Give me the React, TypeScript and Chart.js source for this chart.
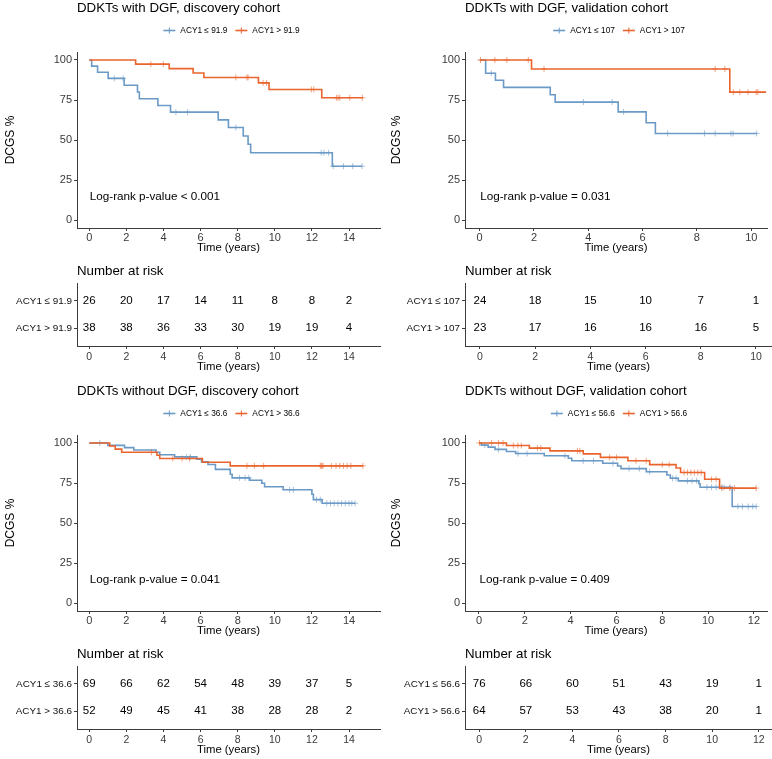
import React, { useEffect, useRef } from "react";
import { Chart, registerables } from "chart.js";
Chart.register(...registerables);

const FONT = "'Liberation Sans', Arial, Helvetica, sans-serif";
const BLUE = "#6B9AC6";
const ORANGE = "#E9652D";
const BLUE_C = "rgba(107,154,198,0.6)";
const ORANGE_C = "rgba(233,101,45,0.6)";
const AXIS = "#3c3c3c";
const TICK_TXT = "#3a3a3a";

// ---------- Panel A: DDKTs with DGF, discovery cohort ----------
const A_LOW_T = [0, 0.13, 0.45, 1.02, 1.88, 2.6, 2.7, 3.7, 4.38, 6.95, 7.5, 8.3, 8.56, 8.7, 13.1, 14.7];
const A_LOW_S = [100, 96.2, 92.3, 88.5, 84.2, 80.0, 75.8, 71.6, 67.4, 62.6, 57.8, 52.5, 47.3, 42.0, 33.6, 33.6];
const A_LOW_C = [1.35, 1.83, 4.67, 5.3, 7.9, 12.5, 12.65, 12.9, 13.15, 13.7, 14.2, 14.7];
const A_HIGH_T = [0, 2.5, 4.31, 5.6, 6.18, 9.12, 9.69, 12.53, 14.74];
const A_HIGH_S = [100, 97.4, 94.6, 91.9, 89.1, 85.7, 81.6, 76.4, 76.4];
const A_HIGH_C = [3.32, 3.99, 7.9, 8.5, 8.56, 9.37, 9.55, 11.97, 12.1, 13.32, 13.41, 13.5, 14.04, 14.72];
const A_LABELS = ["ACY1 \u2264 91.9", "ACY1 > 91.9"];
const A_RISK_T = [0, 2, 4, 6, 8, 10, 12, 14];
const A_RISK_LOW = [26, 20, 17, 14, 11, 8, 8, 2];
const A_RISK_HIGH = [38, 38, 36, 33, 30, 19, 19, 4];

// ---------- Panel B: DDKTs with DGF, validation cohort ----------
const B_LOW_T = [0, 0.22, 0.58, 0.88, 2.6, 2.78, 5.1, 6.13, 6.47, 10.2];
const B_LOW_S = [100, 91.7, 87.3, 82.9, 78.3, 73.7, 67.6, 60.8, 54.1, 54.1];
const B_LOW_C = [0.43, 3.82, 4.88, 5.3, 6.92, 8.28, 8.67, 9.25, 9.33, 10.2];
const B_HIGH_T = [0, 1.91, 9.21, 10.55];
const B_HIGH_S = [100, 94.4, 79.9, 79.9];
const B_HIGH_C = [0.03, 0.56, 1.0, 1.79, 2.37, 8.67, 9.03, 9.34, 9.58, 9.88, 10.18, 10.24];
const B_LABELS = ["ACY1 \u2264 107", "ACY1 > 107"];
const B_RISK_T = [0, 2, 4, 6, 8, 10];
const B_RISK_LOW = [24, 18, 15, 10, 7, 1];
const B_RISK_HIGH = [23, 17, 16, 16, 16, 5];

// ---------- Panel C: DDKTs without DGF, discovery cohort ----------
const C_LOW_T = [0, 1.0, 1.9, 2.4, 3.6, 3.8, 4.6, 5.8, 6.05, 6.4, 6.8, 7.6, 7.7, 8.65, 9.3, 9.45, 10.45, 12.0, 12.08, 12.55, 14.33];
const C_LOW_S = [100, 98.5, 97.1, 95.6, 94.2, 92.7, 91.3, 89.8, 88.2, 86.6, 83.5, 80.5, 78.2, 76.7, 74.8, 72.7, 70.8, 68.0, 64.6, 62.3, 62.3];
const C_LOW_C = [0.57, 5.25, 5.45, 8.1, 8.4, 8.6, 10.8, 11.0, 12.25, 12.45, 12.8, 13.0, 13.2, 13.4, 13.6, 13.8, 14.0, 14.15, 14.33];
const C_HIGH_T = [0, 1.1, 1.4, 1.75, 3.65, 3.8, 6.1, 7.6, 14.75];
const C_HIGH_S = [100, 98.1, 96.2, 94.2, 92.3, 90.3, 88.0, 85.7, 85.7];
const C_HIGH_C = [3.35, 4.5, 5.0, 5.4, 8.5, 8.9, 9.4, 12.45, 12.5, 12.55, 12.6, 13.05, 13.3, 13.5, 13.7, 13.9, 14.1, 14.75];
const C_LABELS = ["ACY1 \u2264 36.6", "ACY1 > 36.6"];
const C_RISK_T = [0, 2, 4, 6, 8, 10, 12, 14];
const C_RISK_LOW = [69, 66, 62, 54, 48, 39, 37, 5];
const C_RISK_HIGH = [52, 49, 45, 41, 38, 28, 28, 2];

// ---------- Panel D: DDKTs without DGF, validation cohort ----------
const D_LOW_T = [0, 0.1, 0.4, 0.7, 1.2, 1.6, 2.85, 3.9, 4.05, 5.4, 6.05, 6.2, 7.3, 8.2, 8.35, 8.7, 9.6, 9.65, 11.05, 12.1];
const D_LOW_S = [100, 98.7, 97.4, 96.0, 94.7, 93.4, 92.0, 90.5, 88.9, 87.3, 85.6, 84.0, 82.0, 80.0, 78.0, 76.3, 74.5, 72.3, 60.3, 60.3];
const D_LOW_C = [0.25, 0.85, 1.7, 2.1, 3.75, 4.55, 5.0, 5.85, 6.55, 7.0, 7.45, 8.45, 8.6, 9.1, 9.3, 9.5, 9.95, 10.15, 10.35, 10.6, 10.7, 10.95, 11.3, 11.5, 11.75, 11.95, 12.1];
const D_HIGH_T = [0, 1.2, 2.2, 3.1, 4.55, 5.3, 6.5, 7.45, 8.6, 8.8, 9.85, 10.5, 12.1];
const D_HIGH_S = [100, 98.4, 96.8, 95.1, 93.2, 91.0, 88.9, 86.5, 84.4, 81.6, 77.3, 71.8, 71.8];
const D_HIGH_C = [0.02, 0.55, 0.85, 1.05, 1.5, 1.7, 1.85, 2.55, 2.7, 4.3, 4.4, 5.7, 6.0, 6.85, 7.3, 8.0, 8.3, 8.95, 9.1, 9.25, 9.4, 9.55, 9.7, 10.15, 10.35, 10.6, 10.95, 11.15, 12.1];
const D_LABELS = ["ACY1 \u2264 56.6", "ACY1 > 56.6"];
const D_RISK_T = [0, 2, 4, 6, 8, 10, 12];
const D_RISK_LOW = [76, 66, 60, 51, 43, 19, 1];
const D_RISK_HIGH = [64, 57, 53, 43, 38, 20, 1];

const Y_TICKS = [0, 25, 50, 75, 100];

type Curve = { t: number[]; s: number[]; c: number[]; color: string; cColor: string; order: number };
type Area = { l: number; r: number; t: number; b: number };

function survAt(t: number[], s: number[], x: number) {
  let v = s[0];
  for (let i = 0; i < t.length; i++) if (t[i] <= x) v = s[i];
  return v;
}

function axisCommon(size: number, color: string, padding: number) {
  return {
    grid: { display: true, drawOnChartArea: false, drawTicks: true, tickLength: 3, color: AXIS, tickColor: AXIS, lineWidth: 1 },
    border: { display: true, color: AXIS, width: 1 },
    ticks: { font: { family: FONT, size }, color, padding, maxRotation: 0, autoSkip: false },
  };
}

function KMChart(props: {
  left: number; top: number; w: number; h: number; area: Area; xmin: number; xmax: number;
  xTicks: number[]; title: string; labels: string[]; curves: Curve[]; pval: string;
}) {
  const ref = useRef<HTMLCanvasElement>(null);
  useEffect(() => {
    const { w, h, area, xmin, xmax, xTicks, title, labels, curves, pval } = props;
    const datasets: any[] = [];
    curves.forEach((cv) => {
      datasets.push({
        type: "line",
        data: cv.t.map((x, i) => ({ x, y: cv.s[i] })),
        borderColor: cv.color,
        borderWidth: 1.6,
        stepped: "before",
        pointRadius: 0,
        fill: false,
        order: cv.order,
      });
      datasets.push({
        type: "scatter",
        data: cv.c.map((x) => ({ x, y: survAt(cv.t, cv.s, x) })),
        pointStyle: "cross",
        pointRadius: 3,
        borderColor: cv.cColor,
        backgroundColor: cv.cColor,
        borderWidth: 1,
        showLine: false,
        order: cv.order,
      });
    });
    const deco = {
      id: "deco",
      afterDraw(chart: any) {
        const ctx = chart.ctx;
        const a = chart.chartArea;
        ctx.save();
        ctx.fillStyle = "#000";
        ctx.textBaseline = "middle";
        ctx.textAlign = "left";
        ctx.font = `13.3px ${FONT}`;
        ctx.fillText(title, a.left, 8.5);
        // legend
        ctx.font = `8.3px ${FONT}`;
        const lineW = 12, g1 = 5, g2 = 8;
        const w1 = ctx.measureText(labels[0]).width;
        const w2 = ctx.measureText(labels[1]).width;
        const total = lineW + g1 + w1 + g2 + lineW + g1 + w2;
        let x = (a.left + a.right) / 2 + 3 - total / 2;
        const ly = 30.5;
        const sample = (x0: number, col: string) => {
          ctx.strokeStyle = col;
          ctx.lineWidth = 1.6;
          ctx.beginPath();
          ctx.moveTo(x0, ly);
          ctx.lineTo(x0 + lineW, ly);
          ctx.stroke();
          ctx.lineWidth = 1;
          ctx.beginPath();
          ctx.moveTo(x0 + lineW / 2, ly - 3);
          ctx.lineTo(x0 + lineW / 2, ly + 3);
          ctx.stroke();
        };
        sample(x, curves[0].color);
        x += lineW + g1;
        ctx.fillStyle = "#000";
        ctx.fillText(labels[0], x, ly);
        x += w1 + g2;
        sample(x, curves[1].color);
        x += lineW + g1;
        ctx.fillText(labels[1], x, ly);
        // p-value
        ctx.font = `11.7px ${FONT}`;
        ctx.fillText(pval, chart.scales.x.getPixelForValue(0) + 0.5, chart.scales.y.getPixelForValue(14.6));
        ctx.restore();
      },
    };
    const xc = axisCommon(11, TICK_TXT, 0);
    const yc = axisCommon(11, TICK_TXT, 2);
    const chart = new Chart(ref.current as HTMLCanvasElement, {
      type: "line",
      data: { datasets },
      plugins: [deco],
      options: {
        animation: false,
        responsive: false,
        maintainAspectRatio: false,
        events: [],
        layout: { padding: { top: area.t, right: w - area.r, left: 0, bottom: 0 } },
        plugins: { legend: { display: false }, tooltip: { enabled: false }, title: { display: false } },
        scales: {
          x: {
            type: "linear",
            min: xmin,
            max: xmax,
            afterBuildTicks: (s: any) => { s.ticks = xTicks.map((v) => ({ value: v })); },
            afterFit: (s: any) => { s.height = h - area.b; },
            ...xc,
            title: { display: true, text: "Time (years)", font: { family: FONT, size: 11.3 }, color: "#000", padding: { top: 0, bottom: 0 } },
          },
          y: {
            type: "linear",
            min: -5,
            max: 105,
            afterBuildTicks: (s: any) => { s.ticks = Y_TICKS.map((v) => ({ value: v })); },
            afterFit: (s: any) => { s.width = area.l; },
            ...yc,
            title: { display: true, text: "DCGS %", font: { family: FONT, size: 12 }, color: "#000", padding: { top: 3, bottom: 0 } },
          },
        },
      } as any,
    });
    return () => chart.destroy();
  }, []);
  return (
    <canvas ref={ref} width={props.w} height={props.h}
      style={{ position: "absolute", left: props.left, top: props.top, width: props.w, height: props.h }} />
  );
}

function RiskChart(props: {
  left: number; top: number; w: number; h: number; area: Area; xmin: number; xmax: number;
  times: number[]; rows: number[][]; labels: string[];
}) {
  const ref = useRef<HTMLCanvasElement>(null);
  useEffect(() => {
    const { w, h, area, xmin, xmax, times, rows, labels } = props;
    const deco = {
      id: "riskdeco",
      afterDraw(chart: any) {
        const ctx = chart.ctx;
        const a = chart.chartArea;
        ctx.save();
        ctx.fillStyle = "#000";
        ctx.textBaseline = "middle";
        ctx.textAlign = "left";
        ctx.font = `13.3px ${FONT}`;
        ctx.fillText("Number at risk", a.left, 16.7);
        ctx.font = `11.5px ${FONT}`;
        ctx.textAlign = "center";
        rows.forEach((vals, r) => {
          const py = chart.scales.y.getPixelForValue(r + 1);
          vals.forEach((v, i) => {
            ctx.fillText(String(v), chart.scales.x.getPixelForValue(times[i]), py);
          });
        });
        ctx.restore();
      },
    };
    const xc = axisCommon(10.5, TICK_TXT, 2);
    const yc = axisCommon(9.9, "#111", 2);
    const chart = new Chart(ref.current as HTMLCanvasElement, {
      type: "scatter",
      data: { datasets: [{ data: [], pointRadius: 0 }] },
      plugins: [deco],
      options: {
        animation: false,
        responsive: false,
        maintainAspectRatio: false,
        events: [],
        layout: { padding: { top: area.t, right: w - area.r, left: 0, bottom: 0 } },
        plugins: { legend: { display: false }, tooltip: { enabled: false } },
        scales: {
          x: {
            type: "linear",
            min: xmin,
            max: xmax,
            afterBuildTicks: (s: any) => { s.ticks = times.map((v) => ({ value: v })); },
            afterFit: (s: any) => { s.height = h - area.b; },
            ...xc,
            title: { display: true, text: "Time (years)", font: { family: FONT, size: 11.3 }, color: "#000", padding: { top: 0, bottom: 6.5 } },
          },
          y: {
            type: "linear",
            min: 0.35,
            max: 2.65,
            reverse: true,
            afterBuildTicks: (s: any) => { s.ticks = [1, 2].map((v) => ({ value: v })); },
            afterFit: (s: any) => { s.width = area.l; },
            ...yc,
            ticks: { ...yc.ticks, callback: (_v: any, i: number) => labels[i] },
          },
        },
      } as any,
    });
    return () => chart.destroy();
  }, []);
  return (
    <canvas ref={ref} width={props.w} height={props.h}
      style={{ position: "absolute", left: props.left, top: props.top, width: props.w, height: props.h }} />
  );
}

const W = 386;
const KM_H = 255;
const RISK_H = 125;
const LEFT_AREA: Area = { l: 77, r: 380, t: 52, b: 228 };
const RIGHT_AREA: Area = { l: 79, r: 386, t: 52, b: 228 };
const LEFT_RISK: Area = { l: 77, r: 380, t: 28, b: 91 };
const RIGHT_RISK: Area = { l: 79, r: 386, t: 28, b: 91 };

export default function App() {
  const curvesA: Curve[] = [
    { t: A_LOW_T, s: A_LOW_S, c: A_LOW_C, color: BLUE, cColor: BLUE_C, order: 1 },
    { t: A_HIGH_T, s: A_HIGH_S, c: A_HIGH_C, color: ORANGE, cColor: ORANGE_C, order: 0 },
  ];
  const curvesB: Curve[] = [
    { t: B_LOW_T, s: B_LOW_S, c: B_LOW_C, color: BLUE, cColor: BLUE_C, order: 1 },
    { t: B_HIGH_T, s: B_HIGH_S, c: B_HIGH_C, color: ORANGE, cColor: ORANGE_C, order: 0 },
  ];
  const curvesC: Curve[] = [
    { t: C_LOW_T, s: C_LOW_S, c: C_LOW_C, color: BLUE, cColor: BLUE_C, order: 1 },
    { t: C_HIGH_T, s: C_HIGH_S, c: C_HIGH_C, color: ORANGE, cColor: ORANGE_C, order: 0 },
  ];
  const curvesD: Curve[] = [
    { t: D_LOW_T, s: D_LOW_S, c: D_LOW_C, color: BLUE, cColor: BLUE_C, order: 1 },
    { t: D_HIGH_T, s: D_HIGH_S, c: D_HIGH_C, color: ORANGE, cColor: ORANGE_C, order: 0 },
  ];
  return (
    <div style={{ position: "absolute", left: 0, top: 0, width: 772, height: 759, overflow: "hidden", background: "#fff" }}>
      <KMChart left={0} top={0} w={W} h={KM_H} area={LEFT_AREA} xmin={-0.66} xmax={15.67} xTicks={A_RISK_T}
        title="DDKTs with DGF, discovery cohort" labels={A_LABELS} curves={curvesA} pval="Log-rank p-value < 0.001" />
      <RiskChart left={0} top={255} w={W} h={RISK_H} area={LEFT_RISK} xmin={-0.66} xmax={15.67}
        times={A_RISK_T} rows={[A_RISK_LOW, A_RISK_HIGH]} labels={A_LABELS} />
      <KMChart left={386} top={0} w={W} h={KM_H} area={RIGHT_AREA} xmin={-0.54} xmax={10.58} xTicks={B_RISK_T}
        title="DDKTs with DGF, validation cohort" labels={B_LABELS} curves={curvesB} pval="Log-rank p-value = 0.031" />
      <RiskChart left={386} top={255} w={W} h={RISK_H} area={RIGHT_RISK} xmin={-0.54} xmax={10.58}
        times={B_RISK_T} rows={[B_RISK_LOW, B_RISK_HIGH]} labels={B_LABELS} />
      <KMChart left={0} top={383} w={W} h={KM_H} area={LEFT_AREA} xmin={-0.66} xmax={15.67} xTicks={C_RISK_T}
        title="DDKTs without DGF, discovery cohort" labels={C_LABELS} curves={curvesC} pval="Log-rank p-value = 0.041" />
      <RiskChart left={0} top={638} w={W} h={RISK_H} area={LEFT_RISK} xmin={-0.66} xmax={15.67}
        times={C_RISK_T} rows={[C_RISK_LOW, C_RISK_HIGH]} labels={C_LABELS} />
      <KMChart left={386} top={383} w={W} h={KM_H} area={RIGHT_AREA} xmin={-0.61} xmax={12.57} xTicks={D_RISK_T}
        title="DDKTs without DGF, validation cohort" labels={D_LABELS} curves={curvesD} pval="Log-rank p-value = 0.409" />
      <RiskChart left={386} top={638} w={W} h={RISK_H} area={RIGHT_RISK} xmin={-0.61} xmax={12.57}
        times={D_RISK_T} rows={[D_RISK_LOW, D_RISK_HIGH]} labels={D_LABELS} />
    </div>
  );
}
